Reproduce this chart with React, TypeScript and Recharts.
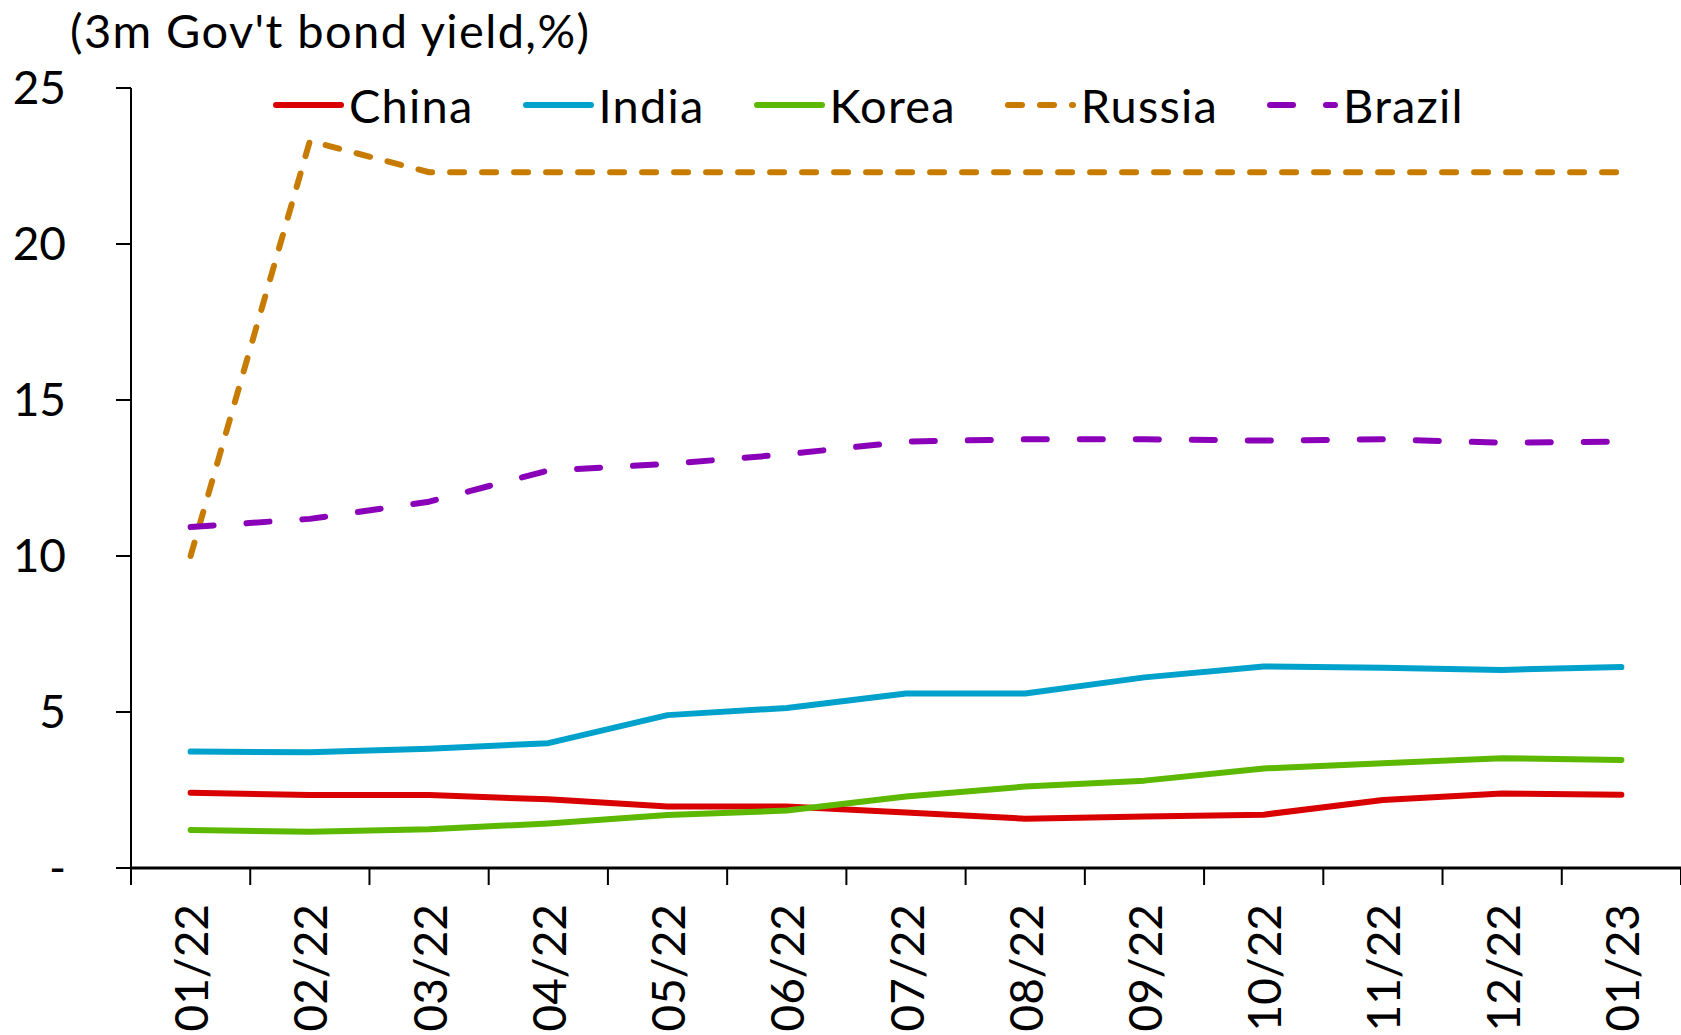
import React from 'react';
import { LineChart, Line, XAxis, YAxis, Legend } from 'recharts';

const months = ['01/22', '02/22', '03/22', '04/22', '05/22', '06/22', '07/22', '08/22', '09/22', '10/22', '11/22', '12/22', '01/23'];
const china = [2.41, 2.34, 2.34, 2.2, 1.97, 1.97, 1.78, 1.58, 1.65, 1.71, 2.18, 2.39, 2.35];
const india = [3.73, 3.71, 3.82, 4.0, 4.9, 5.13, 5.59, 5.59, 6.11, 6.46, 6.42, 6.35, 6.44];
const korea = [1.22, 1.16, 1.24, 1.43, 1.7, 1.84, 2.29, 2.61, 2.8, 3.19, 3.36, 3.52, 3.46];
const russia = [10.0, 23.3, 22.3, 22.3, 22.3, 22.3, 22.3, 22.3, 22.3, 22.3, 22.3, 22.3, 22.3];
const brazil = [10.93, 11.19, 11.74, 12.74, 12.95, 13.26, 13.67, 13.74, 13.74, 13.7, 13.74, 13.63, 13.67];
const yTicks = [0, 5, 10, 15, 20, 25];

const FONT = 'Lato, "Noto Sans", sans-serif';
const CHART_W = 1681;
const CHART_H = 1035;
const Y_AXIS_W = 131;
const PLOT_W = CHART_W - Y_AXIS_W;

const series = [
  { key: 'China', values: china, color: '#D90000', dash: undefined },
  { key: 'India', values: india, color: '#00A2CB', dash: undefined },
  { key: 'Korea', values: korea, color: '#5CB800', dash: undefined },
  { key: 'Russia', values: russia, color: '#C77B00', dash: '14 18' },
  { key: 'Brazil', values: brazil, color: '#8A00B8', dash: '23 33' },
];

const data = months.map((m, i) => {
  const row: Record<string, number | string> = { idx: i, month: m };
  series.forEach((s) => {
    row[s.key] = s.values[i];
  });
  return row;
});

// tick marks sit on the category boundaries, labels go in the middle of each band
const boundaries = months.map((_, i) => i - 0.5).concat(months.length - 0.5);

const MonthTick = (props: any) => {
  const { x, y, payload } = props;
  const i = Math.round(payload.value + 0.5);
  if (i < 0 || i >= months.length) return null;
  const cx = x + PLOT_W / months.length / 2;
  return (
    <text
      x={cx}
      y={y}
      transform={`rotate(-90 ${cx} ${y})`}
      textAnchor="end"
      dominantBaseline="central"
      fill="#000"
      fontSize={46}
      fontFamily={FONT}
    >
      {months[i]}
    </text>
  );
};

const textStyle = { fontFamily: FONT, fontSize: 47, letterSpacing: 1.4, lineHeight: '50px', color: '#000' };

const renderLegend = () => (
  <div style={{ ...textStyle, letterSpacing: 1.2, display: 'flex', alignItems: 'center', gap: 49 }}>
    {series.map((s) => (
      <div key={s.key} style={{ display: 'flex', alignItems: 'center' }}>
        <svg width={71} height={10}>
          <line x1={3} y1={5} x2={68} y2={5} stroke={s.color} strokeWidth={6} strokeLinecap="round" strokeDasharray={s.dash} />
        </svg>
        <span style={{ marginLeft: 5 }}>{s.key}</span>
      </div>
    ))}
  </div>
);

export default function App() {
  return (
    <div style={{ position: 'absolute', left: 0, top: 0, width: CHART_W, height: CHART_H, background: '#fff' }}>
      <div style={{ ...textStyle, position: 'absolute', left: 70, top: 5, whiteSpace: 'nowrap' }}>
        (3m Gov't bond yield,%)
      </div>
      <LineChart width={CHART_W} height={CHART_H} data={data} margin={{ top: 88, right: 0, bottom: 0, left: 0 }}>
        <XAxis
          type="number"
          dataKey="idx"
          domain={[-0.5, months.length - 0.5]}
          ticks={boundaries}
          interval={0}
          height={CHART_H - 868}
          tickSize={17}
          tickMargin={19}
          tick={<MonthTick />}
          axisLine={{ stroke: '#000', strokeWidth: 3 }}
          tickLine={{ stroke: '#000', strokeWidth: 2 }}
        />
        <YAxis
          domain={[0, 25]}
          ticks={yTicks}
          interval={0}
          width={Y_AXIS_W}
          tickSize={15}
          tickMargin={50}
          tickFormatter={(v: number) => (v === 0 ? '-' : String(v))}
          tick={{ fill: '#000', fontSize: 46, fontFamily: FONT }}
          axisLine={{ stroke: '#000', strokeWidth: 2 }}
          tickLine={{ stroke: '#000', strokeWidth: 2 }}
        />
        <Legend
          layout="horizontal"
          verticalAlign="middle"
          align="center"
          content={renderLegend}
          wrapperStyle={{ top: 80, left: 273, width: 1350 }}
        />
        {series.map((s) => (
          <Line
            key={s.key}
            type="linear"
            dataKey={s.key}
            stroke={s.color}
            strokeWidth={6}
            strokeDasharray={s.dash}
            strokeLinecap="round"
            strokeLinejoin="round"
            dot={false}
            activeDot={false}
            isAnimationActive={false}
          />
        ))}
      </LineChart>
    </div>
  );
}
